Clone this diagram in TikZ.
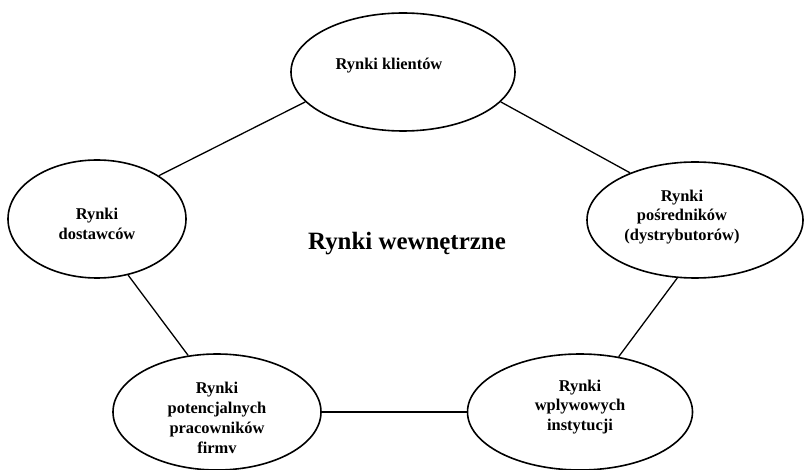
\documentclass[tikz,border=0pt]{standalone}
\usepackage{fontspec}
\setmainfont{Liberation Serif}
\usetikzlibrary{shapes.geometric}

\begin{document}
\begin{tikzpicture}[
  x=1bp, y=-1bp,
  rynek/.style={draw, ellipse, line width=1.6bp, inner sep=0pt},
  opis/.style={font=\fontsize{16.5}{20}\selectfont\bfseries, align=center, inner sep=0pt},
  lacz/.style={line width=1.3bp},
]
\useasboundingbox (0,0) rectangle (805,470);
\clip (0,0) rectangle (805,470);
% rynki
\node[rynek, minimum width=224bp, minimum height=118bp] (klienci) at (403,72) {};
\node[rynek, minimum width=178bp, minimum height=118bp] (dostawcy) at (97,219) {};
\node[rynek, minimum width=216bp, minimum height=116bp] (posrednicy) at (695,220) {};
\node[rynek, minimum width=208bp, minimum height=116bp] (pracownicy) at (217,412) {};
\node[rynek, minimum width=225bp, minimum height=116bp] (instytucje) at (580,412) {};
% opisy
\node[opis] (klienciTxt) at (389,66) {Rynki klientów};
\node[opis] (dostawcyTxt) at (97,224) {Rynki\\dostawców};
\node[opis] (posrednicyTxt) at (682,217) {Rynki\\pośredników\\(dystrybutorów)};
\node[opis] (pracownicyTxt) at (217,418) {Rynki\\potencjalnych\\pracowników\\firmv};
\node[opis] (instytucjeTxt) at (580,407) {Rynki\\wplywowych\\instytucji};
\node[opis, font=\fontsize{25}{29}\selectfont\bfseries] (wewnetrzne) at (407,244) {Rynki wewnętrzne};
% polaczenia
\draw[lacz] (klienci.197) -- (dostawcy.35);
\draw[lacz] (klienci.343) -- (posrednicy.144);
\draw[lacz] (dostawcy.299) -- (pracownicy.117);
\draw[lacz] (posrednicy.253) -- (instytucje.55);
\draw[line width=2.2bp] (pracownicy.east) -- (instytucje.west);
\end{tikzpicture}
\end{document}
